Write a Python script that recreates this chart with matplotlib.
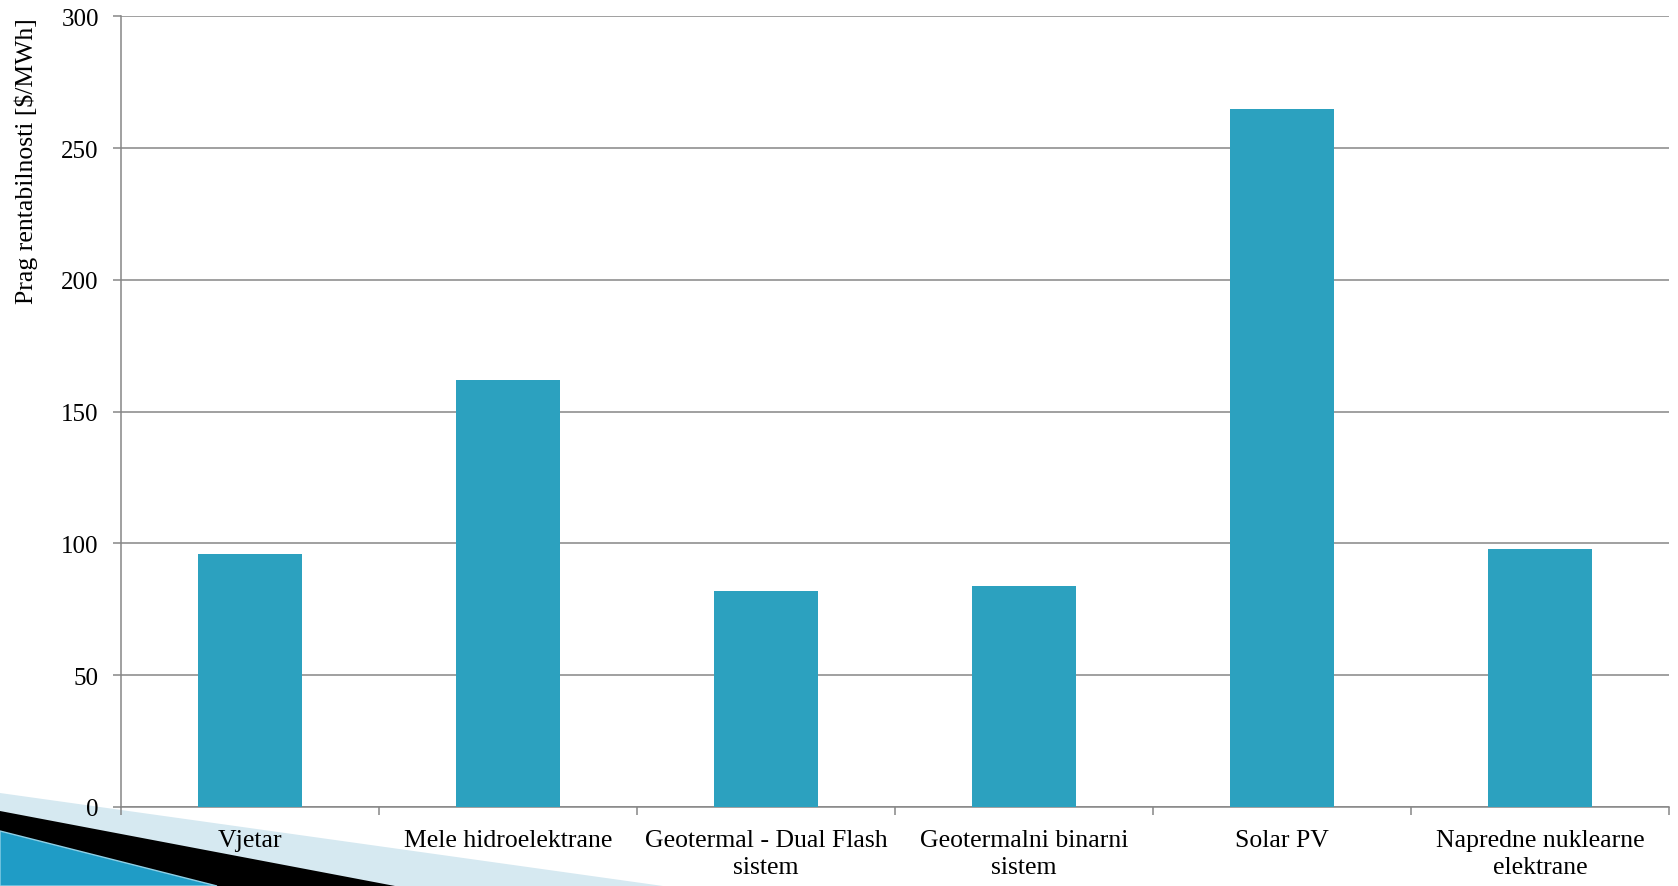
import numpy as np
import matplotlib
matplotlib.use("Agg")
import matplotlib.pyplot as plt
from matplotlib.patches import Polygon

# Data
categories = ["Vjetar", "Mele hidroelektrane", "Geotermal - Dual Flash\nsistem",
              "Geotermalni binarni\nsistem", "Solar PV", "Napredne nuklearne\nelektrane"]
values = [96, 162, 82, 84, 265, 98]
y_ticks = [0, 50, 100, 150, 200, 250, 300]

W, H = 1678, 887
plt.rcParams["font.family"] = ["Liberation Serif", "DejaVu Serif"]

fig = plt.figure(figsize=(W / 100, H / 100), dpi=100)
ax = fig.add_axes([121 / W, 1 - 808 / H, (1669 - 121) / W, (808 - 17.3) / H])
ax.patch.set_alpha(0)

grey = "#868686"
x = np.arange(len(categories))
ax.bar(x, values, width=0.4, color="#2ca1bf", zorder=3)

ax.set_xlim(-0.5, len(categories) - 0.5)
ax.set_ylim(0, 300)
ax.set_yticks(y_ticks)
ax.tick_params(axis="y", labelsize=18, length=6, width=1.1, color=grey, pad=10)
ax.yaxis.grid(True, color=grey, linewidth=1.1, zorder=0)

ax.set_xticks(x)
ax.set_xticklabels(categories, fontsize=18.5, linespacing=1.3)
ax.tick_params(axis="x", length=0, pad=16)
ax.set_xticks(np.arange(-0.5, len(categories), 1), minor=True)
ax.tick_params(axis="x", which="minor", length=6, width=1.1, color=grey)

for s in ["top", "right"]:
    ax.spines[s].set_visible(False)
for s in ["left", "bottom"]:
    ax.spines[s].set_color(grey)
    ax.spines[s].set_linewidth(1.1)

ax.set_ylabel("Prag rentabilnosti [$/MWh]", fontsize=18.5, va="center")
ax.yaxis.set_label_coords(-0.061, 0.8175)


# slide decoration at bottom left (pixel coords)
def fpoly(pts, **kw):
    p = Polygon([(px / W, 1 - py / H) for px, py in pts], closed=True,
                transform=fig.transFigure, zorder=-1, **kw)
    fig.add_artist(p)


fpoly([(0, 794), (663, 887), (0, 887)], facecolor="#d6e9f1", edgecolor="none")
fpoly([(0, 812), (395, 887), (0, 887)], facecolor="black", edgecolor="none")
fpoly([(0, 832), (217, 887), (0, 887)], facecolor="#1f9cc6", edgecolor="#8fd0e6", linewidth=1)

fig.savefig("out.png", dpi=100)
